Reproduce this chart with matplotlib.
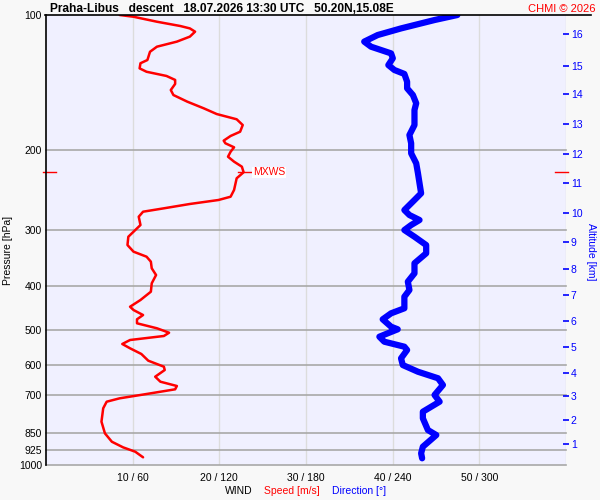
import matplotlib
matplotlib.use('Agg')
import matplotlib.pyplot as plt
from matplotlib.lines import Line2D
from matplotlib.ticker import NullLocator
import numpy as np

# wind speed profile (pressure hPa, speed m/s)
speed_p = [100, 100.9, 103.5, 105.8, 107.1, 108.9, 111.7, 114.6, 117.6, 120.7,
           125.9, 128.0, 131.4, 133.7, 136.6, 139.4, 142.3, 146.8, 150.6, 155.8,
           161.2, 166.0, 170.5, 175.6, 181.7, 185.7, 190.2, 192.8, 196.8, 201.3,
           206.5, 211.8, 217.3, 223.6, 230.6, 244.8, 253.4, 257.7, 263.0, 268.9,
           273.6, 280.7, 292.9, 303.1, 311.0, 324.5, 335.7, 344.4, 353.3, 365.5,
           378.3, 394.7, 412.0, 429.9, 444.9, 452.5, 464.2, 474.5, 484.3, 496.8,
           508.2, 516.8, 527.5, 538.4, 550.4, 566.6, 586.4, 604.7, 615.0, 636.5,
           653.0, 667.5, 678.9, 695.4, 710.9, 723.3, 748.2, 801.2, 850.5, 887.8,
           913.7, 934.3, 961.4]
speed_ms = [8.5, 10.1, 12.8, 15.5, 16.6, 17.2, 16.6, 15.1, 12.8, 12.0,
            11.7, 10.9, 10.8, 11.6, 13.9, 14.9, 14.9, 14.4, 14.7, 16.3,
            18.2, 19.7, 22.0, 22.7, 22.4, 21.3, 20.5, 20.7, 21.7, 21.3,
            21.0, 21.7, 22.6, 22.8, 22.0, 21.7, 21.3, 19.9, 16.6, 13.6,
            11.2, 10.7, 10.9, 10.1, 9.5, 9.4, 10.1, 11.6, 12.1, 12.2,
            12.7, 12.2, 12.1, 10.9, 9.7, 10.1, 11.2, 10.5, 10.5, 12.8,
            14.2, 13.6, 9.7, 8.8, 9.7, 11.0, 11.8, 13.6, 13.7, 12.6,
            13.2, 15.1, 14.9, 11.6, 8.5, 7.0, 6.6, 6.4, 6.8, 7.6,
            8.9, 10.3, 11.2]

# wind direction profile (pressure hPa, degrees)
dir_p = [100, 102.6, 107.1, 110.8, 114.6, 117.6, 121.7, 124.8, 129.2, 132.5,
         135.2, 140.7, 145.5, 150.6, 157.1, 162.6, 175.6, 184.8, 192.8, 202.9,
         213.6, 224.7, 236.6, 249.0, 257.7, 271.3, 278.3, 285.5, 292.9, 300.5,
         311.0, 324.5, 338.5, 356.2, 375.0, 391.4, 408.4, 422.7, 448.5, 460.2,
         474.5, 492.8, 499.4, 509.7, 518.7, 532.1, 545.9, 555.2, 579.4, 599.6,
         620.5, 641.6, 664.1, 698.9, 723.3, 761.4, 787.5, 836.2, 857.9, 910.7,
         941.9, 966.3]
dir_deg = [284.8, 269.0, 245.8, 229.6, 220.3, 225.0, 238.9, 240.1, 237.0, 241.2,
           248.1, 250.0, 250.0, 254.0, 256.3, 255.1, 255.1, 251.6, 252.8, 252.8,
           256.3, 257.5, 258.6, 259.7, 255.1, 248.1, 251.6, 258.6, 252.8, 248.1,
           255.1, 263.2, 263.2, 255.1, 255.1, 250.5, 251.6, 248.1, 248.1, 238.9,
           233.1, 238.9, 243.5, 236.6, 230.8, 234.2, 248.1, 250.0, 245.8, 247.0,
           257.5, 271.4, 274.8, 269.0, 272.5, 260.9, 260.9, 264.4, 270.2, 260.9,
           259.7, 260.4]

p_ticks = [100, 200, 300, 400, 500, 600, 700, 850, 925, 1000]
speed_ticks = [10, 20, 30, 40, 50]
dir_ticks = [60, 120, 180, 240, 300]
alt_km = [1, 2, 3, 4, 5, 6, 7, 8, 9, 10, 11, 12, 13, 14, 15, 16]
alt_p = [898, 794, 702, 624, 548, 479, 420, 367, 319, 275, 236, 204, 175, 150, 130, 110]

plt.rcParams['font.family'] = ['Liberation Sans', 'DejaVu Sans']

fig = plt.figure(figsize=(6, 5), dpi=100, facecolor='#f8f8f8')
ax = fig.add_axes([46 / 600, 35 / 500, 520 / 600, 450 / 500])
ax.set_facecolor('#f0f0ff')
ax.set_yscale('log')
ax.set_ylim(1000, 100)
ax.set_xlim(0, 60)

for p in p_ticks[1:]:
    ax.axhline(p, color='#a8a8a8', lw=1.2, zorder=1, clip_on=False)
for s in speed_ticks + [60]:
    ax.axvline(s, color='#dcdcdc', lw=1, zorder=0.5)

ax.set_yticks(p_ticks, [str(p) for p in p_ticks])
ax.yaxis.set_minor_locator(NullLocator())
ax.set_xticks(speed_ticks, ['%d / %d' % (s, d) for s, d in zip(speed_ticks, dir_ticks)])
ax.tick_params(axis='both', length=0, labelsize=7.5)
ax.tick_params(axis='x', pad=6)
ax.tick_params(axis='y', pad=3)
for side in ['top', 'right', 'bottom']:
    ax.spines[side].set_visible(False)
ax.spines['left'].set_color('black')
ax.spines['left'].set_linewidth(1.2)

ax.plot(speed_ms, speed_p, color='red', lw=1.8, zorder=3,
        solid_joinstyle='round', solid_capstyle='round')

# max wind marker
i = int(np.argmax(speed_ms))
vmax, pmax = speed_ms[i], speed_p[i]
ax.plot([vmax - 0.6, vmax + 0.8], [pmax, pmax], color='red', lw=1, zorder=4)
ax.text(vmax + 1.1, pmax, 'MXWS', color='red', fontsize=7.5, va='center', ha='left',
        zorder=5, bbox=dict(facecolor='white', edgecolor='none', pad=0.5))
ym = ax.get_yaxis_transform()
ax.plot([-0.006, 0.019], [pmax, pmax], color='red', lw=1, transform=ym, clip_on=False)
ax.plot([0.979, 1.004], [pmax, pmax], color='red', lw=1, transform=ym, clip_on=False)

# direction on its own 0..360 scale
dax = ax.twiny()
dax.set_xlim(0, 360)
dax.set_xticks([])
for side in dax.spines:
    dax.spines[side].set_visible(False)
dax.plot(dir_deg, dir_p, color='blue', lw=4.5, solid_capstyle='round',
         solid_joinstyle='round', zorder=3)

# altitude scale on the right
aax = ax.twinx()
aax.set_yscale('log')
aax.set_ylim(1000, 100)
aax.set_yticks(alt_p, [str(a) for a in alt_km])
aax.yaxis.set_minor_locator(NullLocator())
aax.tick_params(axis='y', colors='blue', direction='inout', length=5, width=1.2,
                labelsize=7.5, pad=1)
for side in aax.spines:
    aax.spines[side].set_visible(False)

fig.add_artist(Line2D([45 / 600, 591 / 600], [1 - 14.5 / 500] * 2, color='black', lw=1.2))

fig.text(50 / 600, 1 - 11.7 / 500,
         'Praha-Libus   descent   18.07.2026 13:30 UTC   50.20N,15.08E',
         fontsize=8.6, fontweight='bold', ha='left', va='baseline')
fig.text(596 / 600, 1 - 11.7 / 500, 'CHMI \u00a9 2026', color='red', fontsize=8,
         ha='right', va='baseline')
fig.text(8 / 600, 1 - 250 / 500, 'Pressure [hPa]', rotation=90, fontsize=7.5,
         ha='center', va='center')
fig.text(591 / 600, 1 - 252 / 500, 'Altitude [km]', rotation=270, fontsize=7.5,
         color='blue', ha='center', va='center')
fig.text(225 / 600, 1 - 491 / 500, 'WIND', fontsize=7.5, ha='left', va='center')
fig.text(264 / 600, 1 - 491 / 500, 'Speed [m/s]', fontsize=7.5, color='red',
         ha='left', va='center')
fig.text(332 / 600, 1 - 491 / 500, 'Direction [\u00b0]', fontsize=7.5, color='blue',
         ha='left', va='center')

fig.savefig('out.png', dpi=100, facecolor=fig.get_facecolor())
